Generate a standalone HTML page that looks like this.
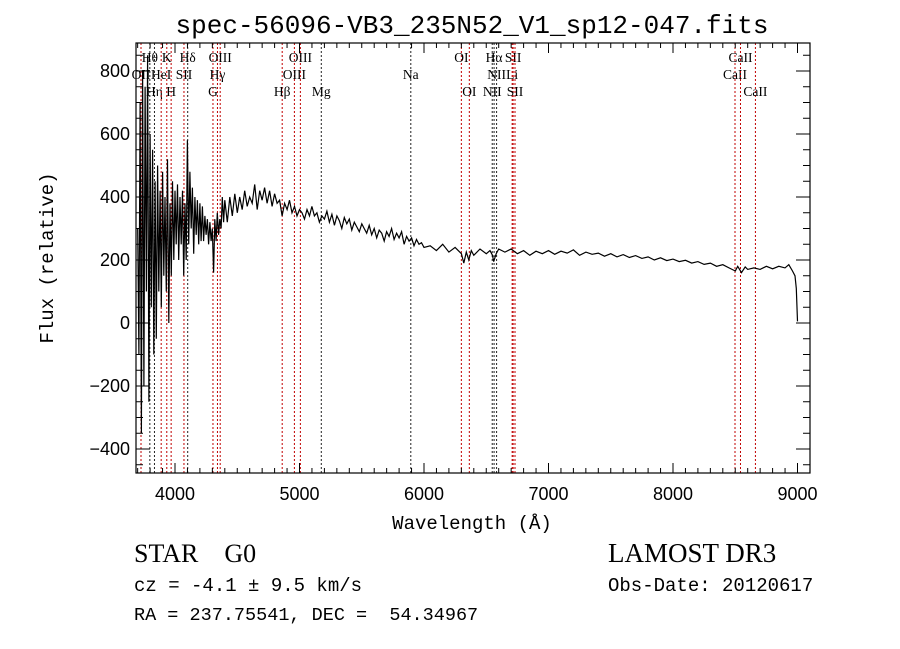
<!DOCTYPE html>
<html><head><meta charset="utf-8"><style>
body{margin:0;background:#fff}
svg{display:block}
</style></head><body>
<svg id="chart" width="900" height="649" xmlns="http://www.w3.org/2000/svg">
<rect width="900" height="649" fill="#fff"/>
<text x="472" y="33" text-anchor="middle" font-family="Liberation Mono, monospace" font-size="26">spec-56096-VB3_235N52_V1_sp12-047.fits</text>
<g id="lines"></g>
<g id="spec"></g>
<g id="axes"></g>
<text x="472" y="529" text-anchor="middle" font-family="Liberation Mono, monospace" font-size="19">Wavelength (Å)</text>
<text transform="translate(53,258) rotate(-90)" text-anchor="middle" font-family="Liberation Mono, monospace" font-size="19">Flux (relative)</text>
<text x="134" y="562" font-family="Liberation Serif, serif" font-size="26" xml:space="preserve">STAR    G0</text>
<text x="134" y="591" font-family="Liberation Mono, monospace" font-size="19" xml:space="preserve">cz = -4.1 ± 9.5 km/s</text>
<text x="134" y="620" font-family="Liberation Mono, monospace" font-size="18.5" xml:space="preserve">RA = 237.75541, DEC =  54.34967</text>
<text x="608" y="562" font-family="Liberation Serif, serif" font-size="27">LAMOST DR3</text>
<text x="608" y="591" font-family="Liberation Mono, monospace" font-size="19">Obs-Date: 20120617</text>
</svg>
<script>
const waves=[3700,3710,3720,3730,3740,3750,3760,3770,3780,3790,3800,3810,3820,3830,3840,3850,3860,3870,3880,3890,3900,3910,3920,3930,3940,3950,3960,3970,3980,3990,4000,4010,4020,4030,4040,4050,4060,4070,4080,4090,4100,4110,4120,4130,4140,4150,4160,4170,4180,4190,4200,4210,4220,4230,4240,4250,4260,4270,4280,4290,4300,4310,4320,4330,4340,4350,4360,4370,4380,4390,4400,4420,4440,4460,4480,4500,4520,4540,4560,4580,4600,4620,4640,4660,4680,4700,4720,4740,4760,4780,4800,4820,4840,4860,4880,4900,4920,4940,4960,4980,5000,5020,5040,5060,5080,5100,5120,5140,5160,5180,
5200,5220,5240,5260,5280,5300,5320,5340,5360,5380,5400,5420,5440,5460,5480,5500,5520,5540,5560,5580,5600,5620,5640,5660,5680,5700,5720,5740,5760,5780,5800,5820,5840,5860,5880,5900,5920,5940,5960,5980,6000,
6050,6100,6150,6200,6250,6300,6320,6340,6360,6380,6400,6450,6500,6530,6550,6560,6580,6600,6650,6700,6750,6800,6850,6900,6950,7000,7050,7100,7150,7200,7250,7300,7350,7400,7450,7500,7550,7600,7650,7700,7750,7800,7850,7900,7950,8000,8050,8100,8150,8200,8250,8300,8350,8400,8450,8500,8520,8550,8580,8600,8650,8700,8750,8800,8850,8900,8930,8960,8980,8990,9000];
const flux=[300,-100,700,-350,800,-200,750,100,850,-250,600,50,550,-100,450,-50,500,100,420,50,480,150,400,100,520,0,380,150,450,200,420,250,440,200,400,250,420,150,380,200,580,250,480,300,430,220,400,280,390,250,380,260,370,260,340,280,330,250,320,260,300,160,330,260,350,280,330,300,400,320,390,320,400,340,410,350,400,360,420,370,400,380,440,360,420,390,430,380,420,370,410,380,390,340,380,360,390,350,370,340,360,350,330,360,340,370,340,350,320,340,
330,355,320,345,310,340,325,300,335,315,330,295,320,305,290,315,300,285,310,280,300,270,295,285,260,290,275,300,265,285,270,290,250,275,260,270,245,265,250,255,240,
245,230,250,225,240,220,190,225,200,230,215,235,220,230,215,195,220,235,225,235,220,230,215,228,220,230,218,228,222,232,215,225,218,222,212,220,210,217,208,214,205,210,200,207,198,203,195,199,190,195,186,190,180,185,175,165,180,160,178,170,175,170,180,172,180,175,185,165,150,110,5];
const lineWaves=[3727,3798,3835,3889,3934,3969,4072,4102,4305,4341,4363,4861,4959,5007,5175,5894,6300,6364,6548,6563,6583,6708,6716,6731,8498,8542,8662];
const lineLabels=["OII","Hθ","Hη","HeI","K","H","SII","Hδ","G","Hγ","OIII","Hβ","OIII","OIII","Mg","Na","OI","OI","NII","Hα","NII","Li","SII","SII","CaII","CaII","CaII"];
const lineRows=[1,0,2,1,0,2,1,0,2,1,0,2,1,0,2,1,0,2,2,0,1,1,0,2,1,0,2];
const lineBlack=[0,1,1,0,0,0,0,1,0,0,0,0,0,0,1,1,0,0,1,1,1,0,0,0,0,0,0];
const xTicks=[4000,5000,6000,7000,8000,9000];
const yTicks=[-400,-200,0,200,400,600,800];

const L=136,R=810,T=43,B=473;
const X=w=>175+(w-4000)*0.1245;
const Y=f=>323-f*0.315;
const NS='http://www.w3.org/2000/svg';
function mk(tag,attrs,parent){const e=document.createElementNS(NS,tag);for(const k in attrs)e.setAttribute(k,attrs[k]);parent.appendChild(e);return e;}

const lg=document.getElementById('lines');
lineWaves.forEach((w,i)=>{
  const l=mk('line',{x1:X(w),x2:X(w),y1:T,y2:B,stroke:lineBlack[i]?'#222':'#c00000','stroke-width':1,'stroke-dasharray':'2,2'},lg);
  
  
  const t=mk('text',{x:X(w),y:62+lineRows[i]*17,'text-anchor':'middle','font-family':'Liberation Serif, serif','font-size':13.5},lg);
  t.textContent=lineLabels[i];
  
  
});

const sg=document.getElementById('spec');
const d=waves.map((w,i)=>(i?'L':'M')+X(w).toFixed(1)+','+Y(flux[i]).toFixed(1)).join('');
const p=mk('path',{d:d,fill:'none',stroke:'#000','stroke-width':1.2},sg);



const ag=document.getElementById('axes');
const box=mk('rect',{x:L,y:T,width:R-L,height:B-T,fill:'none',stroke:'#000','stroke-width':1.2},ag);


for(let w=3700;w<=9100;w+=100){
  const x=X(w);if(x<L||x>R)continue;
  const len=(w%1000===0)?10:5;
  mk('line',{x1:x,x2:x,y1:B,y2:B-len,stroke:'#000'},ag);
  mk('line',{x1:x,x2:x,y1:T,y2:T+len,stroke:'#000'},ag);
}
for(let f=-450;f<=850;f+=50){
  const y=Y(f);if(y<T||y>B)continue;
  const len=(f%200===0)?14:7;
  mk('line',{x1:L,x2:L+len,y1:y,y2:y,stroke:'#000'},ag);
  mk('line',{x1:R,x2:R-len,y1:y,y2:y,stroke:'#000'},ag);
}
xTicks.forEach(w=>{
  const t=mk('text',{x:X(w),y:B+27,'text-anchor':'middle','font-family':'Liberation Sans, sans-serif','font-size':18},ag);
  t.textContent=w;
  
  
});
yTicks.forEach(f=>{
  const t=mk('text',{x:L-6,y:Y(f)+6,'text-anchor':'end','font-family':'Liberation Sans, sans-serif','font-size':18},ag);
  t.textContent=f<0?'\u2212'+(-f):f;
  
  
});
</script>
</body></html>
